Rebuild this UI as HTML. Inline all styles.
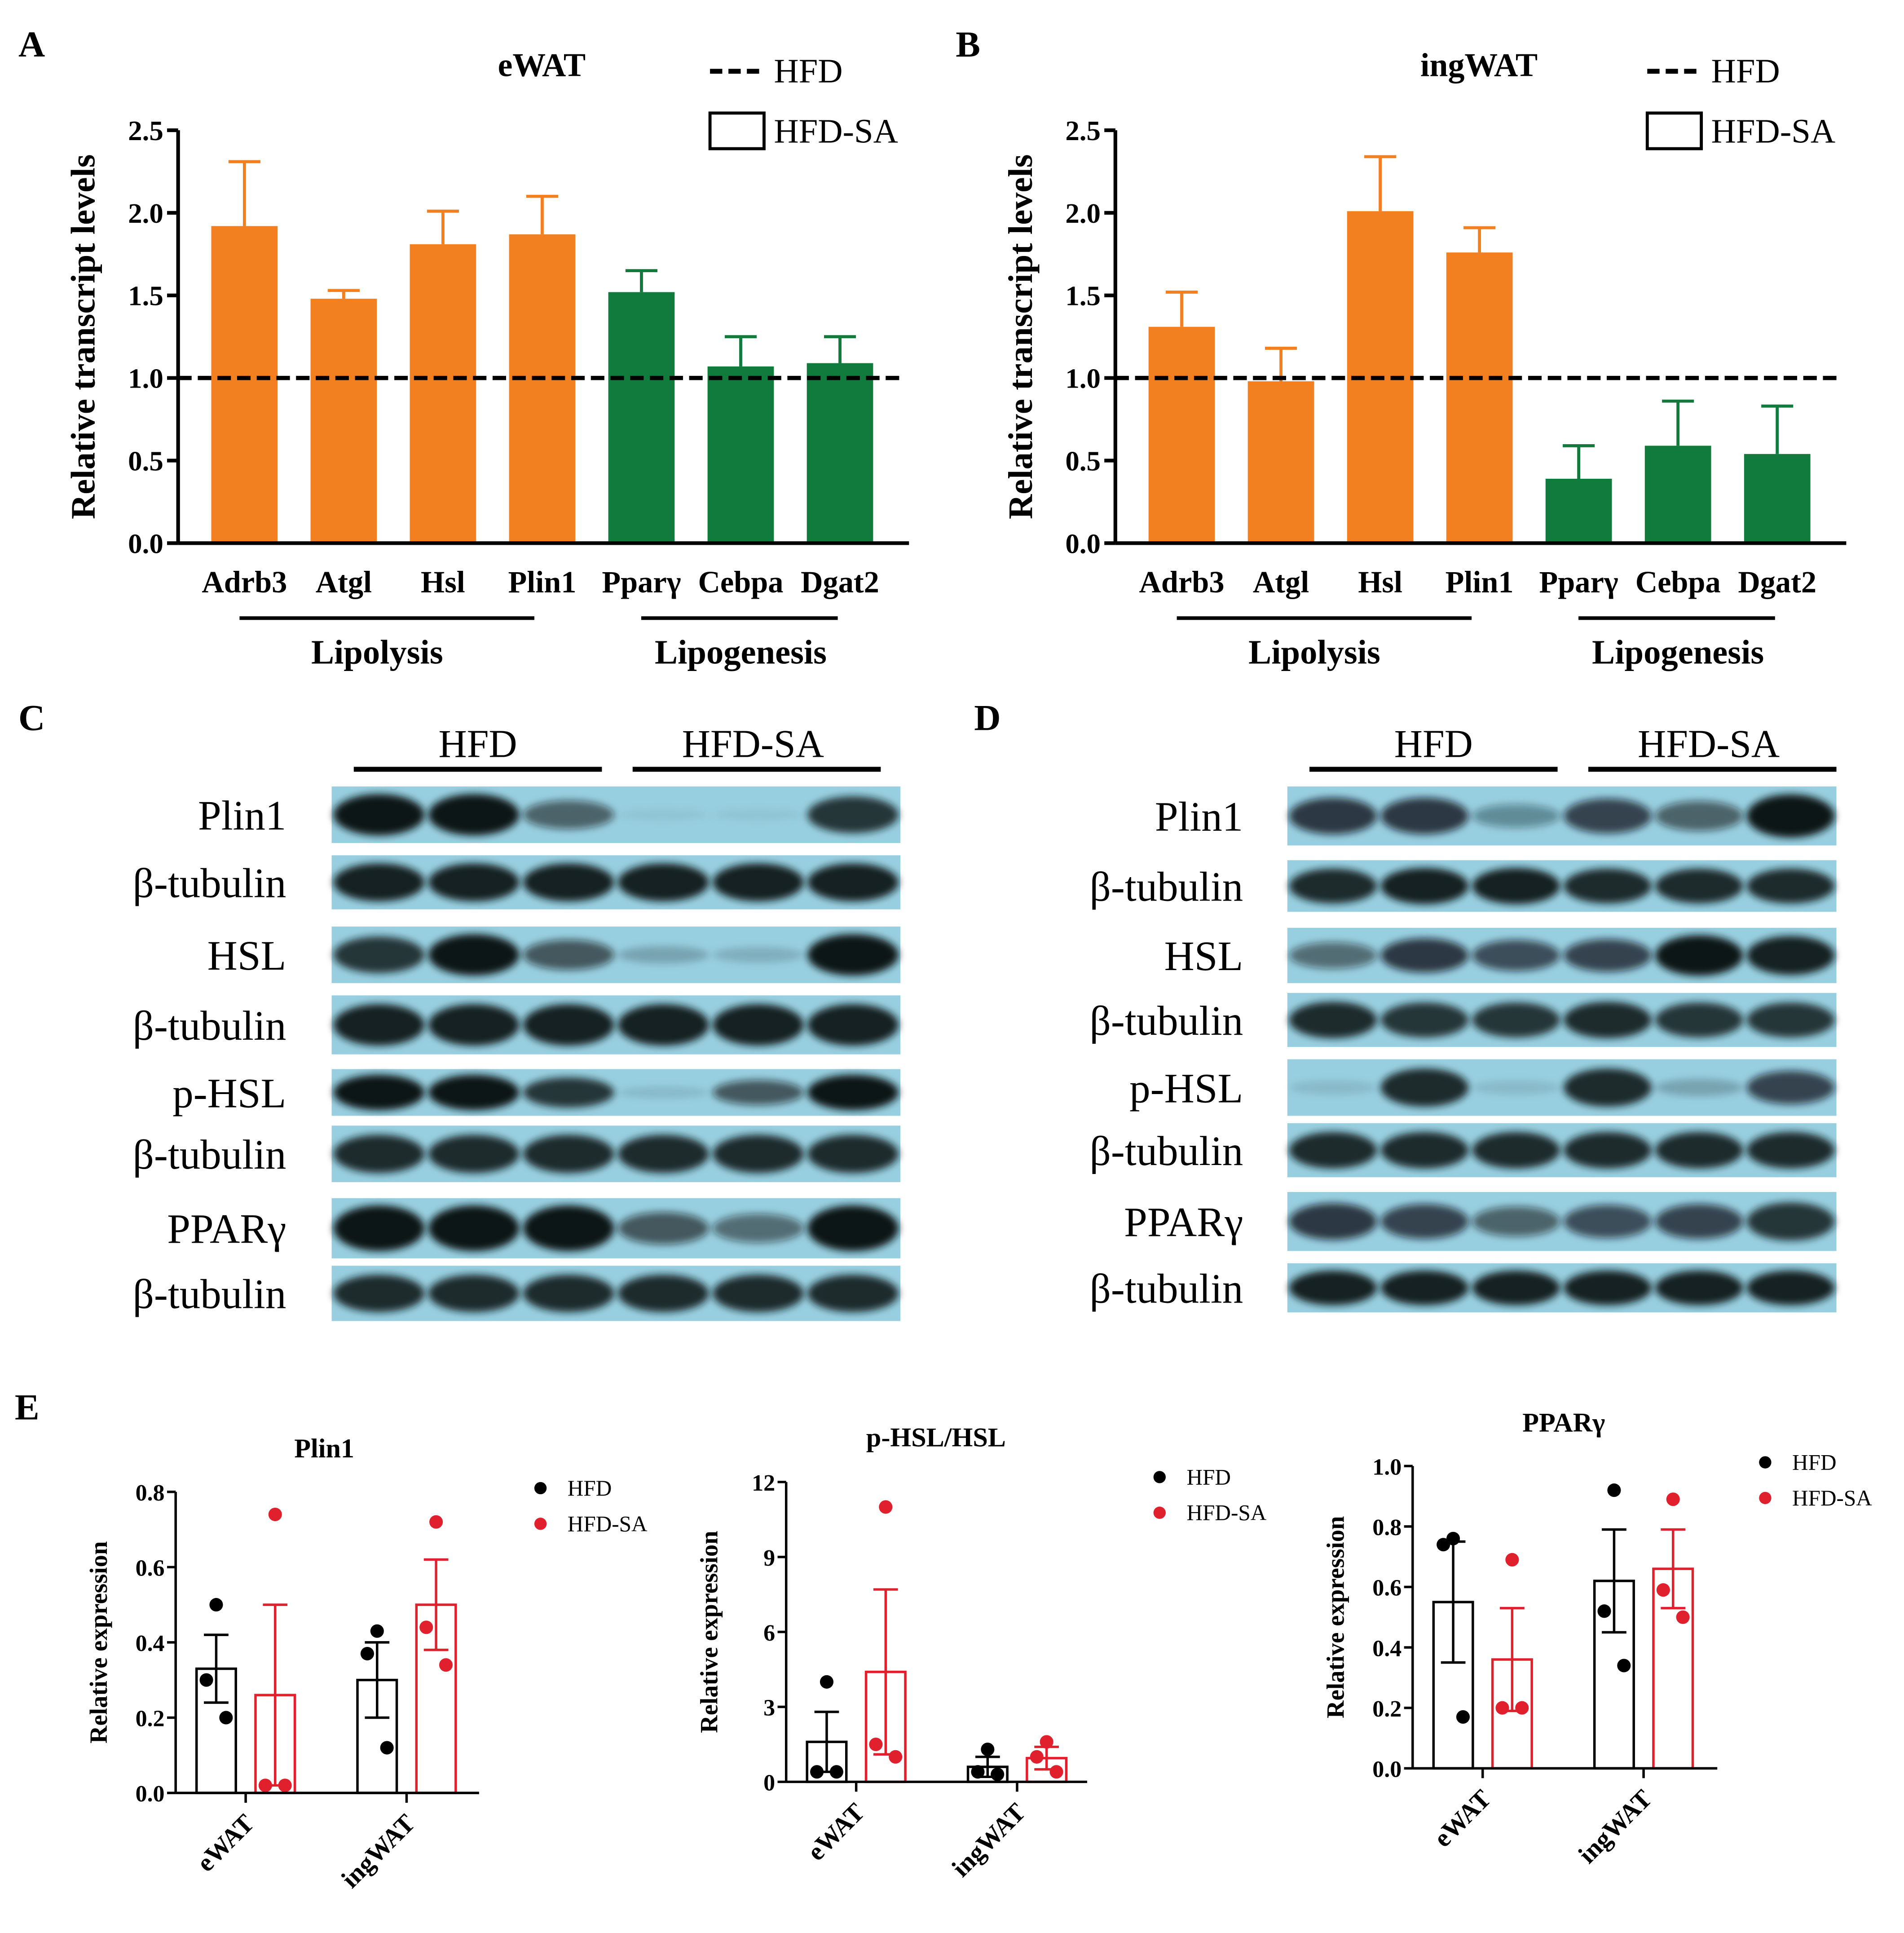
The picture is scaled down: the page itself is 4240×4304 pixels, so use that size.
<!DOCTYPE html>
<html><head><meta charset="utf-8">
<style>
html,body{margin:0;padding:0;background:#fff;}
svg{display:block;font-family:"Liberation Serif",serif;}
</style></head>
<body>
<svg id="fig" width="4240" height="4304" viewBox="0 0 1550 1573" preserveAspectRatio="none" xmlns="http://www.w3.org/2000/svg">
<defs>
<filter id="blur" x="-20%" y="-50%" width="140%" height="200%"><feGaussianBlur stdDeviation="3"/></filter>
</defs>
<g id="root"></g>
</svg>
<script>
// ---------- Panel A/B data ----------
const genes = ["Adrb3","Atgl","Hsl","Plin1","Pparγ","Cebpa","Dgat2"];
const ewatVals = [1.92,1.48,1.81,1.87,1.52,1.07,1.09];
const ewatErr = [2.31,1.53,2.01,2.10,1.65,1.25,1.25];
const ingVals = [1.31,0.98,2.01,1.76,0.39,0.59,0.54];
const ingErr = [1.52,1.18,2.34,1.91,0.59,0.86,0.83];
const abTicks = [0,0.5,1.0,1.5,2.0,2.5];
// ---------- Panel E data ----------
const eGroups = ["eWAT","ingWAT"];
const plinMean = [0.33,0.26,0.30,0.50];
const plinSem = [0.09,0.24,0.10,0.12];
const plinPts = [[0.50,0.30,0.20],[0.74,0.02,0.02],[0.43,0.37,0.12],[0.72,0.44,0.34]];
const plinTicks = [0,0.2,0.4,0.6,0.8];
const hslMean = [1.6,4.4,0.6,0.95];
const hslSem = [1.2,3.3,0.4,0.45];
const hslPts = [[4.0,0.4,0.4],[11.0,1.5,1.0],[1.3,0.4,0.3],[1.6,1.0,0.4]];
const hslTicks = [0,3,6,9,12];
const pparMean = [0.55,0.36,0.62,0.66];
const pparSem = [0.20,0.17,0.17,0.13];
const pparPts = [[0.76,0.74,0.17],[0.69,0.2,0.2],[0.92,0.52,0.34],[0.89,0.59,0.50]];
const pparTicks = [0,0.2,0.4,0.6,0.8,1.0];

const NS="http://www.w3.org/2000/svg";
const root=document.getElementById('root');
function mk(tag,attrs,name,parent,text){
  const el=document.createElementNS(NS,tag);
  for(const k in attrs) el.setAttribute(k,attrs[k]);
  
  
  if(text!==undefined) el.textContent=text;
  (parent||root).appendChild(el);
  return el;
}
function txt(x,y,s,size,name,opt){
  opt=opt||{};
  return mk('text',Object.assign({x:x,y:y,'font-size':size,'font-weight':opt.w||'bold','text-anchor':opt.a||'middle',fill:'#000'},opt.extra||{}),name,opt.p,s);
}

// ---------- Bar panels A, B ----------
function barPanel(ox,vals,errs,title,letter){
  const y0=442, yTop=106, max=2.5, xEnd=ox+595;
  const sy=v=>y0-(v/max)*(y0-yTop);
  const g=mk('g',{},'panel-'+letter.toLowerCase());
  txt(ox-130,46,letter,30,'panel-label-'+letter.toLowerCase(),{p:g,a:'start'});
  txt(ox+296,62,title,27,'chart-title',{p:g});
  mk('line',{x1:ox+433,y1:58,x2:ox+477,y2:58,stroke:'#000','stroke-width':4,'stroke-dasharray':'10,5'},'legend-hfd-line',g);
  txt(ox+485,67,'HFD',28,'legend-hfd-label',{p:g,a:'start',w:'normal'});
  mk('rect',{x:ox+433,y:92,width:44,height:29,fill:'none',stroke:'#000','stroke-width':2.5},'legend-hfdsa-box',g);
  txt(ox+485,116,'HFD-SA',28,'legend-hfdsa-label',{p:g,a:'start',w:'normal'});
  mk('line',{x1:ox,y1:yTop,x2:ox,y2:y0,stroke:'#000','stroke-width':3},'y-axis',g);
  abTicks.forEach(t=>{
    mk('line',{x1:ox-9,y1:sy(t),x2:ox,y2:sy(t),stroke:'#000','stroke-width':3},'y-tick',g);
    txt(ox-12,sy(t)+8,t.toFixed(1),23,'y-tick-label',{p:g,a:'end'});
  });
  txt(0,0,'Relative transcript levels',28,'y-axis-title',{p:g,extra:{transform:`translate(${ox-68},${(y0+yTop)/2}) rotate(-90)`}});
  const step=80.8, bw=54;
  vals.forEach((v,i)=>{
    const cx=ox+54+i*step;
    const col=i<4?'#f28020':'#117a3d';
    mk('line',{x1:cx,y1:sy(v),x2:cx,y2:sy(errs[i]),stroke:col,'stroke-width':2.5},'error-bar',g);
    mk('line',{x1:cx-13,y1:sy(errs[i]),x2:cx+13,y2:sy(errs[i]),stroke:col,'stroke-width':2.5},'error-cap',g);
    mk('rect',{x:cx-bw/2,y:sy(v),width:bw,height:y0-sy(v),fill:col},'bar-'+genes[i].toLowerCase(),g);
    txt(cx,482,genes[i],25,'x-tick-label',{p:g});
  });
  mk('line',{x1:ox,y1:y0,x2:xEnd,y2:y0,stroke:'#000','stroke-width':3},'x-axis',g);
  mk('line',{x1:ox,y1:sy(1),x2:xEnd-5,y2:sy(1),stroke:'#000','stroke-width':3.5,'stroke-dasharray':'11,5'},'hfd-reference-line',g);
  mk('line',{x1:ox+50,y1:503,x2:ox+290,y2:503,stroke:'#000','stroke-width':3},'lipolysis-bracket',g);
  txt(ox+162,540,'Lipolysis',28,'lipolysis-label',{p:g});
  mk('line',{x1:ox+377,y1:503,x2:ox+537,y2:503,stroke:'#000','stroke-width':3},'lipogenesis-bracket',g);
  txt(ox+458,540,'Lipogenesis',28,'lipogenesis-label',{p:g});
}
barPanel(145,ewatVals,ewatErr,'eWAT','A');
barPanel(908,ingVals,ingErr,'ingWAT','B');

// ---------- Western blots C, D ----------
const blotLabels=["Plin1","β-tubulin","HSL","β-tubulin","p-HSL","β-tubulin","PPARγ","β-tubulin"];
const blotC_rows=[[640,686],[696,740],[754,800],[810,858],[870,908],[916,962],[975,1024],[1030,1075]];
const blotD_rows=[[640,688],[700,742],[755,800],[808,852],[862,908],[914,958],[970,1018],[1028,1068]];
const intC=[[0.95,0.95,0.55,0.05,0.05,0.8],[0.9,0.9,0.9,0.9,0.9,0.9],[0.8,0.95,0.6,0.2,0.15,0.95],[0.9,0.9,0.9,0.9,0.9,0.9],[1,1,0.8,0.1,0.6,1],[0.85,0.85,0.85,0.85,0.85,0.85],[1,1,1,0.6,0.5,1],[0.85,0.85,0.85,0.85,0.85,0.85]];
const intD=[[0.75,0.75,0.35,0.7,0.55,0.95],[0.85,0.9,0.9,0.85,0.85,0.85],[0.5,0.75,0.65,0.7,0.95,0.9],[0.85,0.8,0.8,0.85,0.8,0.8],[0.1,0.85,0.1,0.85,0.2,0.7],[0.85,0.85,0.85,0.85,0.85,0.85],[0.75,0.7,0.55,0.65,0.7,0.8],[0.9,0.9,0.9,0.9,0.9,0.9]];
function blotPanel(x0,x1,rows,ints,letter,labelX,ly0){
  const g=mk('g',{},'panel-'+letter.toLowerCase());
  txt(x0-255,ly0,letter,30,'panel-label-'+letter.toLowerCase(),{p:g,a:'start'});
  const w=x1-x0, lw=w/6;
  mk('line',{x1:x0+18,y1:626,x2:x0+220,y2:626,stroke:'#000','stroke-width':4},'hfd-bracket',g);
  txt(x0+119,616,'HFD',32,'hfd-group-label',{p:g,w:'normal'});
  mk('line',{x1:x0+245,y1:626,x2:x0+447,y2:626,stroke:'#000','stroke-width':4},'hfdsa-bracket',g);
  txt(x0+343,616,'HFD-SA',32,'hfdsa-group-label',{p:g,w:'normal'});
  rows.forEach((r,i)=>{
    const h=r[1]-r[0];
    mk('rect',{x:x0,y:r[0],width:w,height:h,fill:'#98cfe0'},'blot-strip',g);
    ints[i].forEach((a,j)=>{
      const cx=x0+lw*(j+0.5);
      mk('ellipse',{cx:cx,cy:r[0]+h/2,rx:lw*0.48,ry:h*(0.1+0.28*a),fill:'#101418','fill-opacity':Math.min(1,a*1.05),filter:'url(#blur)'},'blot-band',g);
    });
    txt(labelX,(r[0]+r[1])/2+12,blotLabels[i],34,'blot-label',{p:g,a:'end',w:'normal'});
  });
}
blotPanel(270,733,blotC_rows,intC,'C',233,594);
blotPanel(1048,1495,blotD_rows,intD,'D',1012,594);
txt(12,1155,'E',30,'panel-label-e',{a:'start'});

// ---------- Panel E scatter-bar charts ----------
function ePanel(ox,xEnd,y0,yTop,max,ticks,means,sems,pts,title,tx,ty,name,fmt,legX,legY){
  const g=mk('g',{},name);
  const sy=v=>y0-(v/max)*(y0-yTop);
  txt(tx,ty,title,22,'chart-title',{p:g});
  mk('line',{x1:ox,y1:yTop,x2:ox,y2:y0,stroke:'#000','stroke-width':2},'y-axis',g);
  ticks.forEach(t=>{
    mk('line',{x1:ox-7,y1:sy(t),x2:ox,y2:sy(t),stroke:'#000','stroke-width':2},'y-tick',g);
    txt(ox-9,sy(t)+7,fmt(t),19,'y-tick-label',{p:g,a:'end'});
  });
  txt(0,0,'Relative expression',20,'y-axis-title',{p:g,extra:{transform:`translate(${ox-56},${(y0+yTop)/2}) rotate(-90)`}});
  const cxs=[ox+33,ox+81,ox+164,ox+212];
  means.forEach((m,i)=>{
    const col=i%2?'#e0202c':'#000';
    const cx=cxs[i];
    mk('rect',{x:cx-16,y:sy(m),width:32,height:y0-sy(m),fill:'none',stroke:col,'stroke-width':2},'bar-'+(i<2?'ewat':'ingwat')+(i%2?'-hfdsa':'-hfd'),g);
    const hi=sy(m+sems[i]), lo=sy(Math.max(0,m-sems[i]));
    mk('line',{x1:cx,y1:hi,x2:cx,y2:lo,stroke:col,'stroke-width':2},'error-bar',g);
    mk('line',{x1:cx-10,y1:hi,x2:cx+10,y2:hi,stroke:col,'stroke-width':2},'error-cap',g);
    mk('line',{x1:cx-10,y1:lo,x2:cx+10,y2:lo,stroke:col,'stroke-width':2},'error-cap',g);
    const offs=[0,-8,8];
    pts[i].forEach((p,k)=>{
      mk('circle',{cx:cx+offs[k],cy:sy(p),r:5.5,fill:col},'data-point',g);
    });
  });
  mk('line',{x1:ox,y1:y0,x2:xEnd,y2:y0,stroke:'#000','stroke-width':2},'x-axis',g);
  eGroups.forEach((lab,i)=>{
    const cx=(cxs[i*2]+cxs[i*2+1])/2;
    mk('line',{x1:cx,y1:y0,x2:cx,y2:y0+8,stroke:'#000','stroke-width':2},'x-tick',g);
    txt(0,0,lab,21,'x-tick-label',{p:g,a:'end',extra:{transform:`translate(${cx+8},${y0+26}) rotate(-45)`}});
  });
  mk('circle',{cx:legX,cy:legY,r:5,fill:'#000'},'legend-hfd-marker',g);
  txt(legX+22,legY+6,'HFD',18,'legend-hfd-label',{p:g,a:'start',w:'normal'});
  mk('circle',{cx:legX,cy:legY+29,r:5,fill:'#e0202c'},'legend-hfdsa-marker',g);
  txt(legX+22,legY+35,'HFD-SA',18,'legend-hfdsa-label',{p:g,a:'start',w:'normal'});
}
ePanel(143,390,1459,1214,0.8,plinTicks,plinMean,plinSem,plinPts,'Plin1',264,1186,'chart-plin1',t=>t.toFixed(1),440,1211);
ePanel(640,885,1450,1206,12,hslTicks,hslMean,hslSem,hslPts,'p-HSL/HSL',762,1177,'chart-phsl-hsl',t=>String(t),944,1202);
ePanel(1150,1398,1439,1193,1.0,pparTicks,pparMean,pparSem,pparPts,'PPARγ',1273,1165,'chart-pparg',t=>t.toFixed(1),1437,1190);
</script>
</body></html>
